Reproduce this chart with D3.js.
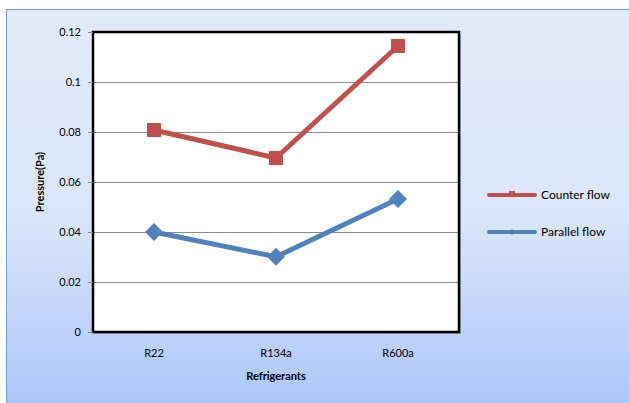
<!DOCTYPE html>
<html><head><meta charset="utf-8">
<script src="https://cdn.jsdelivr.net/npm/d3@7"></script>
<style>
html,body{margin:0;padding:0;background:#fff;}
svg{display:block;}
text{font-family:"Lato","Open Sans",sans-serif;fill:#000;}
</style></head>
<body>
<svg id="chart" width="629" height="403"></svg>
<script>
const categories = ["R22", "R134a", "R600a"];
const counterFlow = [0.0808, 0.0696, 0.1144];
const parallelFlow = [0.0400, 0.0301, 0.0532];
const yTicks = [0, 0.02, 0.04, 0.06, 0.08, 0.1, 0.12];
const seriesNames = ["Counter flow", "Parallel flow"];
const seriesColors = ["#c0504d", "#4f81bd"];

const svg = d3.select("#chart");
const defs = svg.append("defs");
const grad = defs.append("linearGradient").attr("id","bg").attr("x1",0).attr("y1",0).attr("x2",0).attr("y2",1);
grad.append("stop").attr("offset","0%").attr("stop-color","#e3ebfa");
grad.append("stop").attr("offset","50%").attr("stop-color","#dae5fb");
grad.append("stop").attr("offset","100%").attr("stop-color","#a6c2f9");

svg.append("rect").attr("x",6.5).attr("y",9.5).attr("width",640).attr("height",420)
  .attr("fill","url(#bg)").attr("stroke","#6f9ad8").attr("stroke-width",1);

const L=93, T=32, R=459, B=332;
const x = d3.scaleBand().domain(categories).range([L,R]);
const y = d3.scaleLinear().domain([0,0.12]).range([B,T]);

// plot area
svg.append("rect").attr("x",L+2).attr("y",T+2).attr("width",R-L).attr("height",B-T).attr("fill","#888").attr("opacity",0.6);
svg.append("rect").attr("x",L).attr("y",T).attr("width",R-L).attr("height",B-T).attr("fill","#fff");

// gridlines
svg.append("g").selectAll("line").data(yTicks.slice(1)).join("line")
  .attr("x1",L).attr("x2",R).attr("y1",d=>Math.round(y(d))+0.5).attr("y2",d=>Math.round(y(d))+0.5)
  .attr("stroke","#8c8c8c").attr("stroke-width",1);

svg.append("rect").attr("x",L).attr("y",T).attr("width",R-L).attr("height",B-T)
  .attr("fill","none").attr("stroke","#000").attr("stroke-width",2.5);

// y axis
const yAxis = d3.axisLeft(y).tickValues(yTicks).tickSize(5).tickFormat(d=>d===0?"0":String(+d.toFixed(2)));
const gy = svg.append("g").attr("transform",`translate(${L},0)`).call(yAxis);
gy.select(".domain").remove();
gy.selectAll(".tick line").attr("stroke","#888");
gy.selectAll(".tick text").attr("x",-12).style("font-size","11px").style("font-family","Lato, sans-serif");

// x axis labels
svg.append("g").selectAll("text").data(categories).join("text")
  .attr("x",d=>x(d)+x.bandwidth()/2).attr("y",357).attr("text-anchor","middle")
  .style("font-size","11px").text(d=>d);

// axis titles
svg.append("text").attr("x",276).attr("y",380).attr("text-anchor","middle")
  .style("font-size","11px").style("font-weight","bold").text("Refrigerants");
svg.append("text").attr("transform","translate(44,182) rotate(-90)").attr("text-anchor","middle")
  .style("font-size","11px").style("font-weight","bold").text("Pressure(Pa)");

const line = d3.line().x((d,i)=>x(categories[i])+x.bandwidth()/2).y(d=>y(d));

// counter flow
svg.append("path").datum(counterFlow).attr("d",line).attr("fill","none")
  .attr("stroke",seriesColors[0]).attr("stroke-width",5).attr("stroke-linejoin","round");
svg.append("g").selectAll("rect").data(counterFlow).join("rect")
  .attr("x",(d,i)=>x(categories[i])+x.bandwidth()/2-7).attr("y",d=>y(d)-7)
  .attr("width",14).attr("height",14).attr("fill",seriesColors[0]);

// parallel flow
svg.append("path").datum(parallelFlow).attr("d",line).attr("fill","none")
  .attr("stroke",seriesColors[1]).attr("stroke-width",5).attr("stroke-linejoin","round");
svg.append("g").selectAll("path").data(parallelFlow).join("path")
  .attr("transform",(d,i)=>`translate(${x(categories[i])+x.bandwidth()/2},${y(d)})`)
  .attr("d","M0,-9L9,0L0,9L-9,0Z").attr("fill",seriesColors[1]);

// legend
const legY=[195,232];
const lg = svg.append("g");
seriesNames.forEach((n,i)=>{
  lg.append("line").attr("x1",489).attr("x2",535).attr("y1",legY[i]).attr("y2",legY[i])
    .attr("stroke",seriesColors[i]).attr("stroke-width",4).attr("stroke-linecap","round");
  if(i===0) lg.append("rect").attr("x",509).attr("y",legY[i]-4).attr("width",6).attr("height",6).attr("fill",seriesColors[i]);
  else lg.append("path").attr("transform",`translate(512,${legY[i]})`).attr("d","M0,-3L3,0L0,3L-3,0Z").attr("fill",seriesColors[i]);
  lg.append("text").attr("x",541).attr("y",legY[i]+4).style("font-size","12px").text(n);
});
</script>
</body></html>
